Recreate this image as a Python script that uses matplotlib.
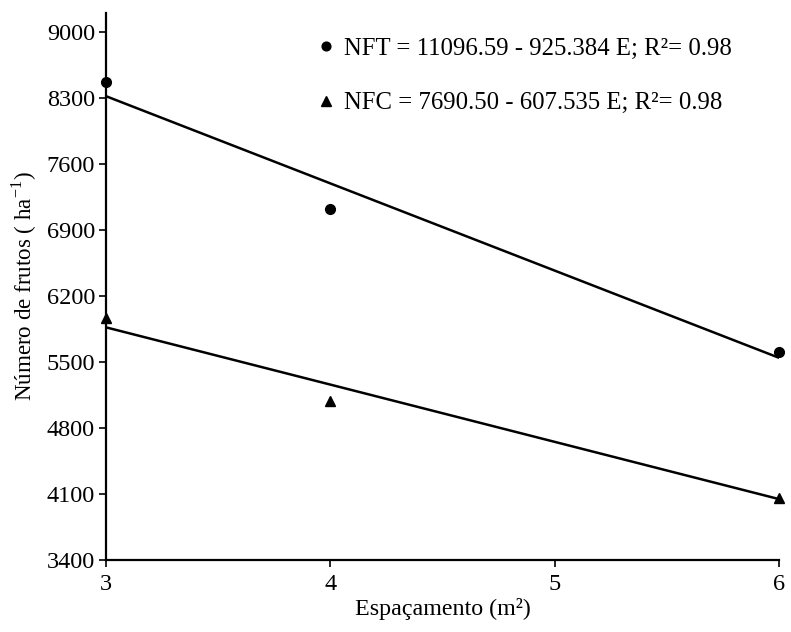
import matplotlib
matplotlib.use("Agg")
import matplotlib.pyplot as plt
import numpy as np

plt.rcParams['font.family'] = ['Liberation Serif', 'DejaVu Serif']
plt.rcParams['mathtext.fontset'] = 'custom'
plt.rcParams['mathtext.rm'] = 'Liberation Serif'

# Data
espacamento = [3, 4, 6]
nft = [8470, 7125, 5606]
nfc = [5970, 5090, 4060]
nft_coef = (11096.59, -925.384)
nfc_coef = (7690.50, -607.535)
nft_label = "NFT = 11096.59 - 925.384 E; R²= 0.98"
nfc_label = "NFC = 7690.50 - 607.535 E; R²= 0.98"
xticks = [3, 4, 5, 6]
yticks = [3400, 4100, 4800, 5500, 6200, 6900, 7600, 8300, 9000]

fig = plt.figure(figsize=(7.91, 6.32), dpi=100)
ax = fig.add_axes([0.134, 0.114, 0.851, 0.865])

xs = np.array([3, 6])
ax.plot(xs, nft_coef[0] + nft_coef[1] * xs, color='black', lw=1.8, solid_capstyle='butt')
ax.plot(xs, nfc_coef[0] + nfc_coef[1] * xs, color='black', lw=1.8, solid_capstyle='butt')
h1, = ax.plot(espacamento, nft, 'o', color='black', ms=7, clip_on=False, linestyle='none')
h2, = ax.plot(espacamento, nfc, '^', color='black', ms=7.5, clip_on=False, linestyle='none')

ax.set_xlim(3, 6)
ax.set_ylim(3400, 9200)
ax.set_xticks(xticks)
ax.set_yticks(yticks)
ax.tick_params(axis='both', labelsize=17.5, direction='out', length=5, width=1.2, colors='black')
ax.tick_params(axis='x', pad=5)
ax.tick_params(axis='y', pad=3)
for s in ['top', 'right']:
    ax.spines[s].set_visible(False)
for s in ['left', 'bottom']:
    ax.spines[s].set_linewidth(1.6)

ax.set_xlabel("Espaçamento (m²)", fontsize=17.3, labelpad=2)
ax.set_ylabel("Número de frutos ( ha$^{\\mathregular{-1}}$)", fontsize=16.6, labelpad=5)

ax.legend([h1, h2], [nft_label, nfc_label], loc='upper left',
          bbox_to_anchor=(0.285, 0.997), frameon=False, fontsize=17.8,
          handlelength=0.5, handletextpad=0.45, labelspacing=1.32, markerscale=0.9)

fig.savefig("out.png", dpi=100)
